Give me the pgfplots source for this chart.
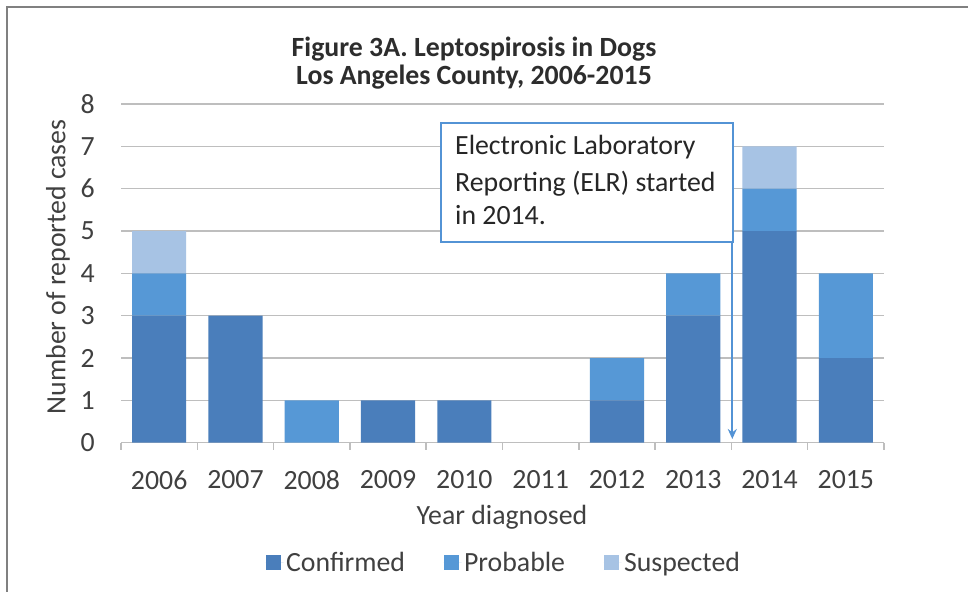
\documentclass[border=0pt]{standalone}
\usepackage{fontspec}
\setmainfont{Carlito}
\usepackage{pgfplots}
\pgfplotsset{compat=1.18}
\usetikzlibrary{arrows.meta}
\definecolor{conf}{RGB}{74,126,187}
\definecolor{prob}{RGB}{86,152,214}
\definecolor{susp}{RGB}{167,195,228}
\definecolor{boxblue}{RGB}{83,147,213}
\definecolor{txt}{RGB}{64,64,64}
\definecolor{ttl}{RGB}{45,45,45}
\definecolor{gridc}{RGB}{190,190,190}
\definecolor{framec}{RGB}{128,128,128}
\newcommand\bodyfont{\fontsize{27.8bp}{33bp}\selectfont}
\newcommand\titlefont{\fontsize{27.8bp}{33bp}\selectfont\bfseries}
\pgfplotsset{sqlegend/.style={legend image code/.code={\fill[##1] (0bp,-7bp) rectangle (15bp,8bp); \path (0bp,0bp) -- (18bp,0bp);}}}
\begin{document}
\begin{tikzpicture}[x=1bp,y=1bp]
\useasboundingbox (0,0) rectangle (968,592);
\fill[white] (0,0) rectangle (968,592);
\draw[framec, line width=2bp] (6.7,0) -- (6.7,585.3) -- (968,585.3);
\node[anchor=base, font=\titlefont, text=ttl] at (474,535.3) {Figure 3A. Leptospirosis in Dogs};
\node[anchor=base, font=\titlefont, text=ttl] at (474,507) {Los Angeles County, 2006-2015};
\begin{axis}[
  at={(121bp,149.3bp)}, anchor=south west,
  scale only axis, width=763bp, height=338.7bp,
  xmin=-0.5, xmax=9.5, ymin=0, ymax=8,
  ybar stacked, bar width=0.71,
  axis line style={draw=none},
  xtick={0,1,2,3,4,5,6,7,8,9},
  xticklabels={2006,2007,2008,2009,2010,2011,2012,2013,2014,2015},
  minor xtick={-0.5,0.5,1.5,2.5,3.5,4.5,5.5,6.5,7.5,8.5,9.5},
  ytick={0,1,2,3,4,5,6,7,8},
  xtick pos=bottom, ytick pos=left,
  tick align=outside,
  major tick length=0pt, minor tick length=7bp,
  every minor tick/.style={gridc, line width=1.5bp},
  ymajorgrids, grid style={gridc, line width=1.5bp},
  tick label style={font=\bodyfont, text=txt},
  /pgf/number format/assume math mode=true,
  yticklabel style={inner sep=0pt, anchor=east, xshift=-26bp},
  xticklabel style={inner sep=0pt, anchor=north, yshift=-28bp},
  ylabel={Number of reported cases},
  every axis y label/.style={at={(axis description cs:-0.0826,0.519)}, rotate=90, anchor=center, font=\bodyfont, text=txt},
  xlabel={Year diagnosed},
  every axis x label/.style={at={(axis description cs:0.4993,-0.243)}, anchor=base, font=\bodyfont, text=txt},
  legend style={at={(axis description cs:0.502,-0.355)}, anchor=center, draw=none, fill=none,
    legend columns=-1, font=\bodyfont, text=txt, nodes={inner sep=2.5bp},
    /tikz/every even column/.append style={column sep=36bp}},
]
\addplot[fill=conf, draw=none, sqlegend] coordinates {(0,3) (1,3) (2,0) (3,1) (4,1) (5,0) (6,1) (7,3) (8,5) (9,2)};
\addplot[fill=prob, draw=none, sqlegend] coordinates {(0,1) (1,0) (2,1) (3,0) (4,0) (5,0) (6,1) (7,1) (8,1) (9,2)};
\addplot[fill=susp, draw=none, sqlegend] coordinates {(0,1) (1,0) (2,0) (3,0) (4,0) (5,0) (6,0) (7,0) (8,1) (9,0)};
\legend{Confirmed,Probable,Suspected}
\end{axis}
\draw[boxblue, line width=2bp, fill=white] (440.7,469.3) rectangle (733.3,350.3);
\draw[boxblue, line width=2.2bp, -{Stealth[length=10bp,width=9bp]}] (732.3,350.3) -- (732.3,153);
\node[anchor=base west, inner sep=0pt, font=\bodyfont, text=black!85] at (455,437) {Electronic Laboratory};
\node[anchor=base west, inner sep=0pt, font=\bodyfont, text=black!85] at (455,400.3) {Reporting (ELR) started};
\node[anchor=base west, inner sep=0pt, font=\bodyfont, text=black!85] at (455,367) {in 2014.};
\end{tikzpicture}
\end{document}
